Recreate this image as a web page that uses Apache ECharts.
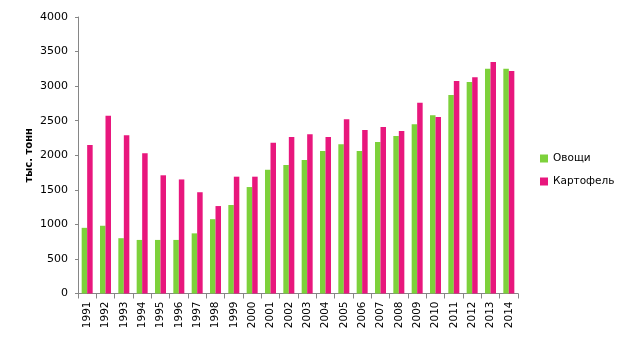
<!DOCTYPE html>
<html><head><meta charset="utf-8">
<script src="https://cdn.jsdelivr.net/npm/echarts@6/dist/echarts.min.js"></script>
<style>html,body{margin:0;padding:0;background:#fff}#c{width:627px;height:340px}</style>
</head><body><div id="c"></div>
<script>
var years = ['1991','1992','1993','1994','1995','1996','1997','1998','1999','2000','2001','2002','2003','2004','2005','2006','2007','2008','2009','2010','2011','2012','2013','2014'];
var vegetables = [950,980,800,775,775,775,870,1075,1280,1540,1790,1860,1930,2060,2160,2060,2190,2280,2450,2580,2870,3060,3250,3250];
var potatoes = [2150,2570,2290,2030,1710,1650,1465,1265,1690,1690,2180,2265,2305,2265,2520,2365,2410,2350,2760,2555,3075,3130,3350,3220];
var yTicks = {min:0, max:4000, interval:500};
var font = 'DejaVu Sans, Verdana, sans-serif';
var chart = echarts.init(document.getElementById('c'));
chart.setOption({
  animation:false,
  grid:{left:78, right:109, top:17, bottom:46.5, containLabel:false},
  legend:{orient:'vertical', left:535, top:148, itemWidth:8, itemHeight:8, itemGap:12, icon:'rect',
    textStyle:{fontFamily:font, fontSize:10.5, color:'#000'},
    data:['Овощи','Картофель']},
  xAxis:{type:'category', data:years,
    axisLine:{lineStyle:{color:'#868686'}},
    axisTick:{show:true, length:5, alignWithLabel:false, lineStyle:{color:'#868686'}},
    axisLabel:{rotate:90, fontFamily:font, fontSize:10.5, color:'#000', margin:8, interval:0}},
  yAxis:{type:'value', min:yTicks.min, max:yTicks.max, interval:yTicks.interval,
    name:'тыс. тонн', nameLocation:'middle', nameRotate:90, nameGap:44, nameMoveOverlap:false,
    nameTextStyle:{fontFamily:font, fontSize:10, fontWeight:'bold', color:'#000'},
    axisLine:{show:true, lineStyle:{color:'#868686'}},
    axisTick:{show:true, length:3, lineStyle:{color:'#868686'}},
    splitLine:{show:false},
    axisLabel:{fontFamily:font, fontSize:11, color:'#000', margin:10, formatter:function(v){return String(v);}}},
  series:[
    {name:'Овощи', type:'bar', data:vegetables, itemStyle:{color:'#7dd13b'}, barGap:'0%', barCategoryGap:'40%'},
    {name:'Картофель', type:'bar', data:potatoes, itemStyle:{color:'#e8177d'}, barGap:'0%', barCategoryGap:'40%'}
  ]
});
</script></body></html>
